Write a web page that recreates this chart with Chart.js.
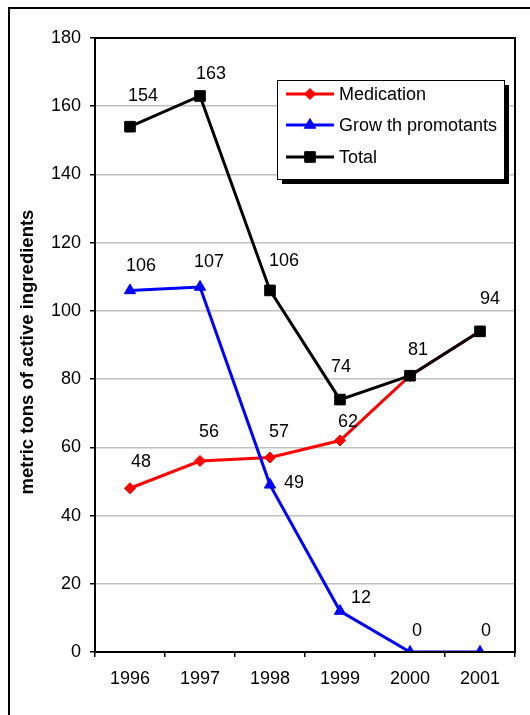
<!DOCTYPE html>
<html>
<head>
<meta charset="utf-8">
<script src="https://cdn.jsdelivr.net/npm/chart.js@4/dist/chart.umd.min.js"></script>
<style>
  html, body { margin: 0; padding: 0; background: #fff; }
  #wrap { width: 530px; height: 715px; position: relative; }
</style>
</head>
<body>
<div id="wrap"><canvas id="c" width="530" height="715"></canvas></div>
<script>
const years = ['1996', '1997', '1998', '1999', '2000', '2001'];
const medication = [48, 56, 57, 62, 81, 94];
const growthPromotants = [106, 107, 49, 12, 0, 0];
const total = [154, 163, 106, 74, 81, 94];
const seriesNames = ['Medication', 'Grow th promotants', 'Total'];
const yTitle = 'metric tons of active ingredients';

const FONT = '"Liberation Sans", Arial, sans-serif';

function drawMarker(ctx, style, x, y, r) {
  if (style === 'rect') {
    const s = Math.SQRT1_2 * r;
    ctx.rect(x - s, y - s, 2 * s, 2 * s);
  } else if (style === 'rectRot') {
    ctx.moveTo(x, y - r); ctx.lineTo(x + r, y); ctx.lineTo(x, y + r); ctx.lineTo(x - r, y); ctx.closePath();
  } else if (style === 'triangle') {
    const e = r * 3 / Math.sqrt(3), h = e * Math.sqrt(3) / 2;
    ctx.moveTo(x - e / 2, y + h / 3); ctx.lineTo(x + e / 2, y + h / 3); ctx.lineTo(x, y - 2 * h / 3); ctx.closePath();
  }
}

const frameAndLabels = {
  id: 'frameAndLabels',
  beforeDraw(chart) {
    const ctx = chart.ctx;
    ctx.save();
    ctx.fillStyle = '#fff';
    ctx.fillRect(0, 0, chart.width, chart.height);
    ctx.strokeStyle = '#000';
    ctx.lineWidth = 2;
    ctx.strokeRect(9, 8, 700, 900);
    // y axis title
    const a = chart.chartArea;
    ctx.translate(28, 352);
    ctx.rotate(-Math.PI / 2);
    ctx.fillStyle = '#000';
    ctx.font = 'bold 18.5px ' + FONT;
    ctx.textAlign = 'center';
    ctx.textBaseline = 'middle';
    ctx.fillText(yTitle, 0, 0);
    ctx.restore();
  },
  afterDatasetsDraw(chart) {
    const ctx = chart.ctx;
    const a = chart.chartArea;
    ctx.save();
    // plot border
    ctx.strokeStyle = '#000';
    ctx.lineWidth = 2;
    ctx.strokeRect(a.left, a.top, a.right - a.left, a.bottom - a.top);
    // data labels (a label hidden when a later-drawn series has the same value there)
    ctx.fillStyle = '#000';
    ctx.font = '18px ' + FONT;
    ctx.textAlign = 'center';
    ctx.textBaseline = 'middle';
    const sets = chart.data.datasets;
    sets.forEach((ds, di) => {
      const meta = chart.getDatasetMeta(di);
      meta.data.forEach((pt, i) => {
        const covered = sets.some((o) => o !== ds && o.order < ds.order && o.data[i] === ds.data[i]);
        if (covered) return;
        const off = ds.labelOffsets[i];
        ctx.fillText(String(ds.data[i]), pt.x + off[0], pt.y + off[1]);
      });
    });
    // legend
    const bx = 277, by = 80, bw = 227, bh = 99;
    ctx.fillStyle = '#000';
    ctx.fillRect(bx + 5, by + 5, bw, bh);
    ctx.fillStyle = '#fff';
    ctx.fillRect(bx, by, bw, bh);
    ctx.strokeStyle = '#000';
    ctx.lineWidth = 1;
    ctx.strokeRect(bx + 0.5, by + 0.5, bw, bh);
    const rows = [94, 125, 157];
    sets.forEach((ds, r) => {
      const y = rows[r];
      ctx.strokeStyle = ds.borderColor;
      ctx.lineWidth = 3;
      ctx.beginPath();
      ctx.moveTo(286, y);
      ctx.lineTo(334, y);
      ctx.stroke();
      ctx.fillStyle = ds.pointBackgroundColor;
      ctx.lineWidth = 1;
      ctx.beginPath();
      drawMarker(ctx, ds.pointStyle, 310, y, ds.pointRadius);
      ctx.fill();
      ctx.stroke();
      ctx.fillStyle = '#000';
      ctx.font = '18px ' + FONT;
      ctx.textAlign = 'left';
      ctx.textBaseline = 'middle';
      ctx.fillText(ds.label, 339, y + 1);
    });
    ctx.restore();
  }
};

new Chart(document.getElementById('c'), {
  type: 'line',
  data: {
    labels: years,
    datasets: [
      {
        label: seriesNames[0], data: medication, order: 2,
        borderColor: '#ff0000', backgroundColor: '#ff0000', pointBackgroundColor: '#ff0000',
        pointStyle: 'rectRot', pointRadius: 5.5, borderWidth: 3, pointBorderWidth: 1,
        labelOffsets: [[11, -26], [9, -29], [9, -26], [8, -18], [8, -26], [10, -32]]
      },
      {
        label: seriesNames[1], data: growthPromotants, order: 1,
        borderColor: '#0000ff', backgroundColor: '#0000ff', pointBackgroundColor: '#0000ff',
        pointStyle: 'triangle', pointRadius: 6.5, borderWidth: 3, pointBorderWidth: 1,
        labelOffsets: [[11, -24], [9, -25], [24, -2], [21, -13], [7, -21], [6, -21]]
      },
      {
        label: seriesNames[2], data: total, order: 0,
        borderColor: '#000000', backgroundColor: '#000000', pointBackgroundColor: '#000000',
        pointStyle: 'rect', pointRadius: 7.5, borderWidth: 3, pointBorderWidth: 1,
        labelOffsets: [[13, -31], [11, -22], [14, -29], [1, -33], [8, -26], [10, -32]]
      }
    ]
  },
  options: {
    responsive: false,
    animation: false,
    devicePixelRatio: 1,
    layout: { padding: { left: 0, top: 38, right: 15, bottom: 0 } },
    plugins: { legend: { display: false }, tooltip: { enabled: false } },
    elements: { line: { tension: 0 } },
    scales: {
      x: {
        type: 'category',
        offset: true,
        afterFit(s) { s.height = 63; },
        grid: { display: true, offset: true, drawOnChartArea: false, drawTicks: true, tickLength: 5, color: '#000', lineWidth: 1.5 },
        border: { display: false },
        ticks: { color: '#000', font: { family: FONT, size: 18 }, padding: 11, maxRotation: 0, autoSkip: false }
      },
      y: {
        min: 0, max: 180,
        afterFit(s) { s.width = 95; },
        grid: { color: '#c0c0c0', lineWidth: 1.5, drawTicks: true, tickLength: 5, tickColor: '#000' },
        border: { display: false },
        ticks: { stepSize: 20, color: '#000', font: { family: FONT, size: 18 }, padding: 9 },
        title: { display: false, text: yTitle }
      }
    }
  },
  plugins: [frameAndLabels]
});
</script>
</body>
</html>
